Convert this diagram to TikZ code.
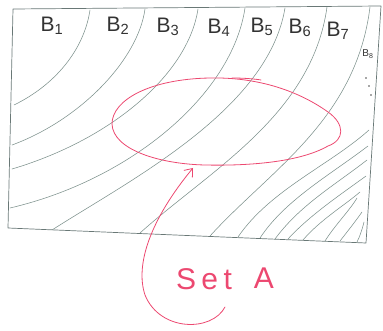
\documentclass[tikz,border=0pt]{standalone}
\usepackage{fontspec}
\setmainfont{Liberation Sans}
\usetikzlibrary{arrows.meta}
\definecolor{pencil}{RGB}{125,145,140}
\definecolor{frame}{RGB}{105,120,118}
\definecolor{pinkred}{RGB}{236,72,112}
\tikzset{
  curve/.style={draw=pencil, line width=0.55pt, line cap=round},
  border/.style={draw=frame, line width=0.7pt, line join=round},
  setmark/.style={draw=pinkred, line width=0.8pt, line cap=round},
  blabel/.style={font=\fontsize{21}{21}\selectfont, text=black!80, inner sep=0pt},
  settext/.style={font=\fontsize{30}{30}\selectfont, text=pinkred, inner sep=0pt}
}
\begin{document}
\begin{tikzpicture}[x=1pt,y=-1pt]
\useasboundingbox (0,0) rectangle (383,331);
% frame
\coordinate (tl) at (13,9);
\coordinate (tr) at (381,6);
\coordinate (br) at (366,243);
\coordinate (bl) at (8,228);
\draw[border] (tl) -- (tr) -- (br) -- (bl) -- cycle;
% boundary curves
\draw[curve] (90,10) .. controls (84,50) and (55,85) .. (14,105);
\draw[curve] (145,9) .. controls (138,60) and (80,120) .. (12,145);
\draw[curve] (198,9) .. controls (188,75) and (110,140) .. (12,169);
\draw[curve] (245,8) .. controls (232,95) and (130,180) .. (10,208);
\draw[curve] (285,8) .. controls (268,110) and (130,180) .. (52,230);
\draw[curve] (327,7) .. controls (312,115) and (210,170) .. (140,233);
\draw[curve] (370,7) .. controls (356,120) and (270,170) .. (210,236);
% crowded lines near the lower right
\draw[curve] (369,130) .. controls (330,165) and (270,190) .. (238,237);
\draw[curve] (368,146) .. controls (330,175) and (285,200) .. (260,238);
\draw[curve] (367,160) .. controls (335,185) and (300,205) .. (275,239);
\draw[curve] (366,176) .. controls (340,195) and (310,215) .. (288,239);
\draw[curve] (360,192) .. controls (345,205) and (320,220) .. (303,240);
\draw[curve] (357,198) .. controls (350,210) and (335,225) .. (325,241);
\draw[curve] (362,212) .. controls (355,222) and (347,232) .. (340,241);
\draw[curve] (364,222) .. controls (362,230) and (360,236) .. (357,242);
% labels
\node[blabel] (b1) at (52,26) {B\textsubscript{1}};
\node[blabel] (b2) at (118,26) {B\textsubscript{2}};
\node[blabel] (b3) at (168,27) {B\textsubscript{3}};
\node[blabel] (b4) at (219,28) {B\textsubscript{4}};
\node[blabel] (b5) at (262,27) {B\textsubscript{5}};
\node[blabel] (b6) at (300,28) {B\textsubscript{6}};
\node[blabel] (b7) at (338,31) {B\textsubscript{7}};
\node[blabel, font=\fontsize{10}{10}\selectfont] (b8) at (368,54) {B\textsubscript{8}};
\fill[black!70] (366,78) circle (0.9) (369,86) circle (0.9) (371,95) circle (0.9);
% set A
\draw[setmark] (112,124) .. controls (112,100) and (150,79) .. (210,78)
  .. controls (260,77) and (300,92) .. (328,112)
  .. controls (345,124) and (345,140) .. (328,146)
  .. controls (300,162) and (250,166) .. (205,165)
  .. controls (160,164) and (113,150) .. cycle;
\draw[setmark] (232,78) .. controls (245,78) and (255,79) .. (261,80);
\node[settext] (set) at (204,279) {\addfontfeature{LetterSpace=18}Set};
\node[settext] (a) at (264,278) {A};
\coordinate (tail) at (225,307);
\coordinate (tip) at (193,168);
\draw[setmark, -{Straight Barb[length=7pt,width=11pt]}] (tail) .. controls (212,332) and (160,332) .. (145,295)
  .. controls (135,265) and (150,220) .. (tip);
\end{tikzpicture}
\end{document}
